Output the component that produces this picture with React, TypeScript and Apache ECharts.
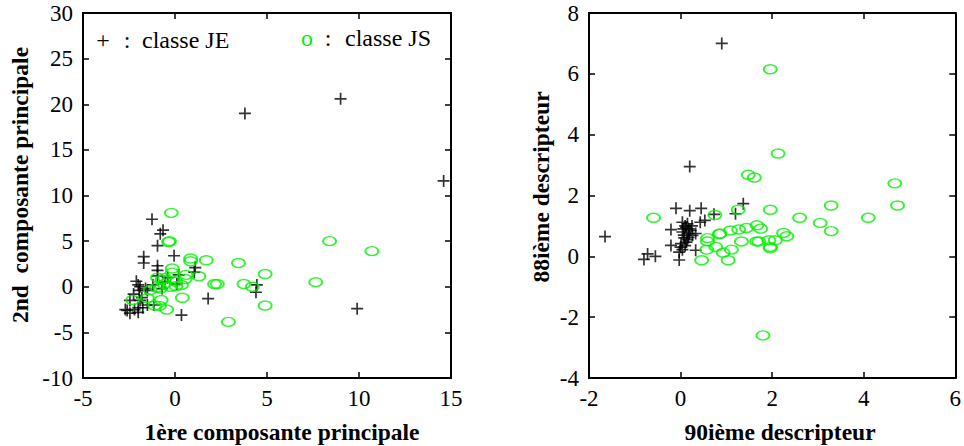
import React, { useEffect, useRef } from "react";
import * as echarts from "echarts";

// Left panel: principal components
const leftJE: number[][] = [
  [3.8, 19.0], [9.0, 20.6], [14.6, 11.6], [9.9, -2.4], [1.8, -1.3], [0.35, -3.1], [4.45, 0.2], [4.4, -0.6],
  [-1.25, 7.4], [-0.65, 6.2], [-0.8, 5.8], [-0.95, 4.5], [-1.7, 3.3], [-1.7, 2.6], [-0.05, 3.4], [-0.95, 2.3],
  [-0.95, 1.8], [-0.95, 1.2], [0.2, 1.3], [1.1, 2.1], [1.05, 1.6], [-2.1, 0.6], [-1.9, 0.0], [-1.95, -0.4],
  [-2.25, -0.8], [-1.5, -0.4], [-2.45, -1.5], [-1.9, -1.5], [-2.6, -2.6], [-2.45, -2.9], [-2.0, -2.8],
  [-1.5, -2.0], [-1.15, -2.0], [-0.55, 0.5], [-0.4, 1.0], [-2.0, -2.3], [-2.2, -2.5], [-1.8, -1.2],
  [-1.6, -0.2], [-2.0, 0.2], [-1.75, -2.3], [-2.7, -2.5], [-1.2, 0.2], [0.1, 0.3], [-0.7, -0.2],
];
const leftJS: number[][] = [
  [-0.2, 8.1], [-0.3, 5.0], [-0.35, 4.9], [0.85, 3.1], [0.85, 2.8], [1.7, 2.9], [3.45, 2.6], [4.9, 1.4],
  [8.4, 5.0], [10.7, 3.9], [7.65, 0.5], [4.9, -2.05], [2.9, -3.85], [3.75, 0.3], [4.2, 0.0], [2.15, 0.3],
  [2.3, 0.3], [1.3, 1.15], [0.55, 0.85], [0.4, -1.2], [-0.15, 2.0], [-0.15, 1.55], [0.05, 0.05], [0.35, 0.2],
  [-0.7, 0.8], [-0.55, 0.95], [-0.8, -0.2], [-0.25, 0.0], [-1.35, -0.35], [-1.5, -1.25], [-2.3, -1.45],
  [-0.75, -1.45], [-1.1, -2.05], [-0.85, -2.1], [-0.45, -2.5], [-0.95, 1.0], [0.05, 0.55], [-0.6, 0.3],
  [0.6, 1.3], [-1.0, -0.1],
];

// Right panel: descriptors 90 and 88
const rightJE: number[][] = [
  [0.9, 7.0], [0.2, 2.95], [-1.65, 0.65], [-0.8, -0.1], [-0.72, 0.08], [-0.55, 0.0], [-0.1, 1.58], [0.2, 1.5],
  [0.45, 1.58], [0.73, 1.38], [1.37, 1.73], [1.2, 1.4], [0.53, 1.18], [0.43, 1.12], [-0.21, 0.88], [0.04, 1.12],
  [0.15, 1.07], [0.12, 0.96], [0.04, 0.8], [0.19, 0.75], [0.26, 0.69], [0.33, 0.75], [0.08, 0.61], [0.13, 0.47],
  [0.01, 0.42], [-0.21, 0.36], [0.04, 0.22], [-0.03, 0.14], [-0.03, -0.12], [0.33, 0.2], [0.1, 1.0], [0.18, 0.9],
  [0.07, 0.7], [0.15, 0.55], [0.22, 0.85], [0.0, 0.3], [0.1, 0.35], [0.17, 0.62], [0.06, 0.9], [0.25, 1.0],
];
const rightJS: number[][] = [
  [1.96, 6.15], [2.13, 3.38], [1.48, 2.68], [1.61, 2.59], [4.68, 2.4], [4.74, 1.67], [3.29, 1.67], [4.1, 1.27],
  [2.6, 1.27], [3.05, 1.1], [3.29, 0.83], [1.96, 1.53], [1.26, 1.53], [0.75, 1.36], [-0.59, 1.27], [1.67, 1.02],
  [1.75, 0.91], [1.44, 0.93], [1.27, 0.88], [1.09, 0.85], [0.86, 0.75], [2.25, 0.77], [2.32, 0.66], [2.07, 0.53],
  [1.93, 0.53], [1.71, 0.49], [1.66, 0.49], [1.33, 0.49], [0.59, 0.6], [0.59, 0.49], [0.57, 0.22], [0.77, 0.31],
  [0.93, 0.12], [1.11, 0.22], [1.96, 0.31], [1.96, 0.27], [0.46, -0.13], [1.04, -0.13], [1.8, -2.6], [0.85, 0.73],
];

const leftXRange = [-5, 15, 5];
const leftYRange = [-10, 30, 5];
const rightXRange = [-2, 6, 2];
const rightYRange = [-4, 8, 2];

const titles = {
  leftX: "1ère composante principale",
  leftY: "2nd  composante principale",
  rightX: "90ième descripteur",
  rightY: "88ième descripteur",
  je: "classe JE",
  js: "classe JS",
};

const SERIF = "Liberation Serif";
const GREEN = "#00f000";
const CROSS = "path://M0,5 L10,5 M5,0 L5,10";
const ELLIPSE =
  "path://M0,4 C0,1.79 2.69,0 6,0 C9.31,0 12,1.79 12,4 C12,6.21 9.31,8 6,8 C2.69,8 0,6.21 0,4 Z";

function xAxisDef(grid: number, r: number[], pos: "bottom" | "top") {
  return {
    type: "value",
    gridIndex: grid,
    position: pos,
    min: r[0],
    max: r[1],
    interval: r[2],
    axisLine: { show: true, onZero: false, lineStyle: { color: "#000", width: 2 } },
    axisTick: { show: true, inside: true, length: 6, lineStyle: { color: "#000", width: 1.5 } },
    axisLabel: {
      show: pos === "bottom",
      color: "#000",
      fontFamily: SERIF,
      fontSize: 23,
      margin: 9,
      showMinLabel: true,
      showMaxLabel: true,
    },
    splitLine: { show: false },
  };
}
function yAxisDef(grid: number, r: number[], pos: "left" | "right") {
  return {
    type: "value",
    gridIndex: grid,
    position: pos,
    min: r[0],
    max: r[1],
    interval: r[2],
    axisLine: { show: true, onZero: false, lineStyle: { color: "#000", width: 2 } },
    axisTick: { show: true, inside: true, length: 6, lineStyle: { color: "#000", width: 1.5 } },
    axisLabel: {
      show: pos === "left",
      color: "#000",
      fontFamily: SERIF,
      fontSize: 23,
      margin: 10,
      padding: [4, 0, 0, 0],
      showMinLabel: true,
      showMaxLabel: true,
    },
    splitLine: { show: false },
  };
}

function crossSeries(data: number[][], xi: number, yi: number) {
  return {
    type: "scatter",
    xAxisIndex: xi,
    yAxisIndex: yi,
    data,
    symbol: CROSS,
    symbolSize: 12,
    itemStyle: { color: "rgba(0,0,0,0)", borderColor: "#000", borderWidth: 1.7 },
    emphasis: { disabled: true },
  };
}
function ellipseSeries(data: number[][], xi: number, yi: number) {
  return {
    type: "scatter",
    xAxisIndex: xi,
    yAxisIndex: yi,
    data,
    symbol: ELLIPSE,
    symbolSize: [13, 9],
    itemStyle: { color: "rgba(0,0,0,0)", borderColor: GREEN, borderWidth: 1.7 },
    emphasis: { disabled: true },
  };
}

export default function App() {
  const ref = useRef<HTMLDivElement>(null);
  useEffect(() => {
    if (!ref.current) return;
    const chart = echarts.init(ref.current, null, { renderer: "svg" });
    const titleStyle = { fontFamily: SERIF, fontSize: 23.5, fontWeight: "bold", fill: "#000" };
    const legendStyle = { fontFamily: SERIF, fontSize: 24, fill: "#000" };
    chart.setOption({
      animation: false,
      grid: [
        { left: 83, top: 13, width: 368, height: 365, show: false },
        { left: 589, top: 13, width: 369, height: 365, show: false },
      ],
      xAxis: [
        xAxisDef(0, leftXRange, "bottom"),
        xAxisDef(0, leftXRange, "top"),
        xAxisDef(1, rightXRange, "bottom"),
        xAxisDef(1, rightXRange, "top"),
      ],
      yAxis: [
        yAxisDef(0, leftYRange, "left"),
        yAxisDef(0, leftYRange, "right"),
        yAxisDef(1, rightYRange, "left"),
        yAxisDef(1, rightYRange, "right"),
      ],
      series: [
        crossSeries(leftJE, 0, 0),
        ellipseSeries(leftJS, 0, 0),
        crossSeries(rightJE, 2, 2),
        ellipseSeries(rightJS, 2, 2),
      ],
      graphic: [
        { type: "text", x: 282, y: 432, style: { ...titleStyle, text: titles.leftX, align: "center", verticalAlign: "middle" } },
        { type: "text", x: 780, y: 432, style: { ...titleStyle, text: titles.rightX, align: "center", verticalAlign: "middle" } },
        { type: "text", x: 20, y: 185, rotation: Math.PI / 2, style: { ...titleStyle, text: titles.leftY, align: "center", verticalAlign: "middle" } },
        { type: "text", x: 541, y: 187, rotation: Math.PI / 2, style: { ...titleStyle, text: titles.rightY, align: "center", verticalAlign: "middle" } },
        { type: "text", x: 103, y: 40, style: { ...legendStyle, text: "+", align: "center", verticalAlign: "middle" } },
        { type: "text", x: 127, y: 40, style: { ...legendStyle, text: ":", align: "center", verticalAlign: "middle" } },
        { type: "text", x: 142, y: 40, style: { ...legendStyle, text: titles.je, align: "left", verticalAlign: "middle" } },
        { type: "text", x: 307, y: 38, style: { ...legendStyle, fill: GREEN, text: "o", align: "center", verticalAlign: "middle" } },
        { type: "text", x: 328, y: 38, style: { ...legendStyle, text: ":", align: "center", verticalAlign: "middle" } },
        { type: "text", x: 345, y: 38, style: { ...legendStyle, text: titles.js, align: "left", verticalAlign: "middle" } },
      ],
    });
    return () => chart.dispose();
  }, []);
  return (
    <div
      ref={ref}
      style={{ position: "absolute", left: 0, top: 0, width: 964, height: 446, background: "#fff" }}
    />
  );
}
